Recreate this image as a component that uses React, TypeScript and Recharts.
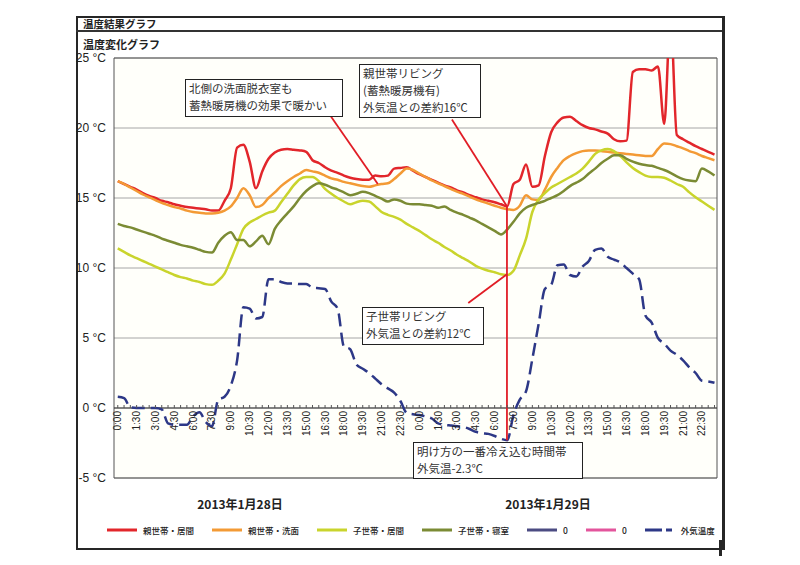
import React from "react";
import {
  LineChart,
  Line,
  XAxis,
  YAxis,
  CartesianGrid,
  ReferenceLine,
  ReferenceArea,
} from "recharts";

// half-hour readings, 2013-01-28 0:00 to 2013-01-29 23:30
const HOURS = Array.from({ length: 96 }, (_, i) => i / 2);
const TICK_LABELS = [
  "0:00", "1:30", "3:00", "4:30", "6:00", "7:30", "9:00", "10:30",
  "12:00", "13:30", "15:00", "16:30", "18:00", "19:30", "21:00", "22:30",
];
const DAY_LABELS = ["2013年1月28日", "2013年1月29日"];
const Y_TICKS = [-5, 0, 5, 10, 15, 20, 25];

const oyaLiving = [
  16.2, 16.0, 15.8, 15.6, 15.35, 15.15, 15.0, 14.8, 14.7, 14.55, 14.45, 14.35,
  14.3, 14.25, 14.2, 14.1, 14.1, 14.8, 15.7, 18.6, 18.8, 17.6, 15.7, 16.9,
  17.8, 18.25, 18.45, 18.5, 18.45, 18.4, 18.3, 17.7, 17.5, 17.2, 16.95, 16.8,
  16.6, 16.45, 16.35, 16.3, 16.3, 16.6, 16.55, 16.6, 17.1, 17.15, 17.2, 16.95,
  16.7, 16.5, 16.3, 16.1, 15.9, 15.75, 15.55, 15.4, 15.2, 15.05, 14.9, 14.8,
  14.7, 14.55, 14.4, 16.0, 16.3, 17.4, 15.8, 15.9, 18.0, 19.7, 20.4, 20.75,
  20.8, 20.5, 20.2, 20.0, 19.9, 19.75, 19.6, 19.2, 19.05, 19.1, 24.0, 24.2,
  24.2, 24.1, 24.4, 20.3, 28.0, 19.5, 19.2, 18.95, 18.7, 18.5, 18.3, 18.1,
];
const oyaWash = [
  16.2, 16.0, 15.75, 15.5, 15.25, 15.05, 14.85, 14.65, 14.5, 14.35, 14.25, 14.1,
  14.0, 13.95, 13.9, 13.9, 13.95, 14.1, 14.4, 15.0, 15.7, 15.2, 14.35, 14.5,
  15.0, 15.4, 15.85, 16.2, 16.5, 16.75, 17.0, 16.9, 16.8, 16.6, 16.4, 16.3,
  16.15, 16.05, 15.95, 15.85, 15.8, 15.9, 16.0, 16.05, 16.35, 16.75, 17.1, 17.0,
  16.75, 16.5, 16.25, 16.05, 15.85, 15.65, 15.45, 15.3, 15.1, 14.9, 14.75, 14.6,
  14.45, 14.3, 14.2, 14.15, 14.45, 15.2, 14.9, 14.85, 15.6, 16.5, 17.15, 17.7,
  18.0, 18.2, 18.35, 18.4, 18.4, 18.35, 18.3, 18.25, 18.2, 18.15, 18.1, 18.05,
  18.0, 18.0, 18.5, 18.9, 18.85, 18.7, 18.55, 18.35, 18.2, 18.0, 17.85, 17.7,
];
const koLiving = [
  11.4, 11.15, 10.9, 10.7, 10.5, 10.3, 10.1, 9.9, 9.7, 9.5, 9.35, 9.25,
  9.1, 9.0, 8.85, 8.8, 9.1, 9.6, 10.6, 11.7, 12.8, 13.25, 13.5, 13.75,
  13.95, 14.1, 14.7, 15.3, 15.9, 16.35, 16.5, 16.5, 16.2, 15.65, 15.3, 15.0,
  14.75, 14.55, 14.7, 14.8, 14.75, 14.4, 14.0, 13.8, 13.65, 13.45, 13.15, 12.9,
  12.65, 12.35, 12.05, 11.8, 11.5, 11.25, 10.95, 10.7, 10.45, 10.15, 9.95, 9.8,
  9.7, 9.55, 9.5, 9.8, 10.9, 12.1, 14.0, 14.9, 15.35, 15.75, 16.0, 16.25,
  16.5, 16.75, 17.1, 17.6, 18.15, 18.4, 18.5, 18.35, 18.0, 17.55, 17.15, 16.85,
  16.6, 16.5, 16.5, 16.45, 16.25, 16.0, 15.8, 15.4, 15.05, 14.75, 14.45, 14.15,
];
const koBedroom = [
  13.15, 13.0, 12.9, 12.75, 12.6, 12.45, 12.3, 12.1, 11.95, 11.8, 11.65, 11.55,
  11.45, 11.3, 11.15, 11.1, 11.8, 12.3, 12.55, 12.0, 12.0, 11.55, 11.9, 12.3,
  11.7, 12.8, 13.4, 13.9, 14.4, 15.0, 15.5, 15.85, 16.05, 15.95, 15.75, 15.6,
  15.4, 15.2, 15.3, 15.45, 15.35, 15.15, 14.95, 14.75, 14.9, 14.8, 14.6, 14.55,
  14.55, 14.5, 14.45, 14.3, 14.4, 14.15, 13.95, 13.8, 13.6, 13.4, 13.15, 12.9,
  12.65, 12.4, 12.75, 13.3, 13.9, 14.3, 14.5, 14.65, 14.8, 15.0, 15.2, 15.5,
  15.85, 16.1, 16.35, 16.75, 17.1, 17.5, 17.8, 18.05, 18.05, 17.8, 17.6, 17.45,
  17.35, 17.3, 17.15, 17.0, 16.8, 16.55, 16.35, 16.25, 16.2, 17.1, 16.9, 16.6,
];
const outdoor = [
  0.8, 0.7, 0.05, 0, 0, 0, 0, -0.1, -1.1, -1.2, -1.2, -1.2,
  -0.6, -0.3, -1.0, -1.3, 0.6, 0.8, 1.6, 3.4, 7.2, 7.1, 6.4, 6.5,
  9.2, 9.2, 9.0, 8.9, 8.9, 8.85, 8.85, 8.6, 8.55, 8.5, 7.6, 7.1,
  4.4, 4.2, 3.1, 2.8, 2.5, 2.1, 1.7, 1.4, 1.1, 0.5, -0.35, -0.45,
  -0.5, -0.6, -0.75, -1.1, -1.2, -1.25, -1.3, -1.35, -1.5, -1.7, -1.8, -1.85,
  -2.0, -2.2, -2.3, -0.5, 0.6, 1.2, 3.5, 6.0, 8.5, 8.8, 10.2, 10.25,
  9.5, 9.4, 10.1, 10.5, 11.3, 11.4, 10.8, 10.6, 10.4, 10.0, 9.6, 9.2,
  6.6, 6.1, 5.0, 4.6, 4.1, 3.8, 3.4, 2.9, 2.5, 1.95, 1.9, 1.8,
];

const SERIES = [
  { key: "oyaLiving", name: "親世帯・居間", color: "#e2262b", values: oyaLiving },
  { key: "oyaWash", name: "親世帯・洗面", color: "#f39a35", values: oyaWash },
  { key: "koLiving", name: "子世帯・居間", color: "#c9d42c", values: koLiving },
  { key: "koBedroom", name: "子世帯・寝室", color: "#7b8b34", values: koBedroom },
  { key: "empty1", name: "0", color: "#4b4b82", values: null },
  { key: "empty2", name: "0", color: "#e3559c", values: null },
  { key: "outdoor", name: "外気温度", color: "#2d3887", values: outdoor, dash: "13 6" },
];

const data = HOURS.map((h, i) => {
  const row: any = { h };
  SERIES.forEach((s) => {
    if (s.values) row[s.key] = s.values[i];
  });
  return row;
});

// callouts, in (hour, °C)
const CALLOUTS = [
  [{ x: 16.75, y: 21.1 }, { x: 20.7, y: 16.0 }],
  [{ x: 26.6, y: 20.6 }, { x: 30.95, y: 14.45 }],
  [{ x: 30.98, y: 14.45 }, { x: 30.98, y: -2.3 }],
  [{ x: 27.9, y: 7.5 }, { x: 30.98, y: 9.55 }],
];

const NOTES = [
  { lines: ["北側の洗面脱衣室も", "蓄熱暖房機の効果で暖かい"], left: 185, top: 79, width: 158, height: 38 },
  { lines: ["親世帯リビング", "(蓄熱暖房機有)", "外気温との差約16℃"], left: 359, top: 64, width: 122, height: 54 },
  { lines: ["子世帯リビング", "外気温との差約12℃"], left: 362, top: 307, width: 122, height: 38 },
  { lines: ["明け方の一番冷え込む時間帯", "外気温-2.3℃"], left: 413, top: 442, width: 170, height: 37 },
];

const Y_MIN = -5;
const Y_MAX = 25;
const PLOT_TOP = 58;
const PLOT_BOTTOM = 478;
const ZERO_OFFSET = ((PLOT_BOTTOM - PLOT_TOP) * (0 - Y_MIN)) / (Y_MAX - Y_MIN);
const X_TICKS = HOURS;

const JP = '"Noto Sans CJK JP", "Noto Sans", sans-serif';

function HourTick(props: any) {
  const { x, y, payload } = props;
  const idx = Math.round(payload.value * 2);
  const axisY = y - ZERO_OFFSET;
  const label = idx % 3 === 0 ? TICK_LABELS[(idx / 3) % 16] : null;
  return (
    <g>
      <line x1={x} x2={x} y1={axisY} y2={axisY - 3} stroke="#555" strokeWidth={1} />
      {label && (
        <text
          transform={`translate(${x + 3.5},${axisY + 3}) rotate(-90)`}
          textAnchor="end"
          fontSize={10}
          fontFamily="Liberation Sans, Arial, sans-serif"
          fill="#222"
        >
          {label}
        </text>
      )}
    </g>
  );
}

export default function App() {
  return (
    <div style={{ position: "absolute", left: 0, top: 0, width: 800, height: 565, background: "#fff", overflow: "hidden" }}>
      {/* document frame */}
      <div style={{ position: "absolute", left: 76, top: 16, width: 644, height: 530, border: "2px solid #262626", borderRightWidth: 3 }} />
      <div style={{ position: "absolute", left: 719, top: 540, width: 3, height: 16, background: "#262626" }} />
      <div style={{ position: "absolute", left: 76, top: 30, width: 646, height: 2, background: "#333" }} />
      <div style={{ position: "absolute", left: 83, top: 16, fontFamily: JP, fontWeight: 700, fontSize: 10.5, lineHeight: "15px", color: "#222" }}>
        温度結果グラフ
      </div>
      <div style={{ position: "absolute", left: 83, top: 37, fontFamily: JP, fontWeight: 700, fontSize: 11, lineHeight: "15px", color: "#222" }}>
        温度変化グラフ
      </div>

      <div style={{ position: "absolute", left: 0, top: 0 }}>
        <LineChart width={800} height={565} data={data} margin={{ top: PLOT_TOP, right: 83, bottom: 77, left: 72 }}>
          <CartesianGrid vertical={false} stroke="#a6a6a6" fill="#fffffa" />
          <ReferenceArea x1={-0.3} x2={47.7} y1={Y_MIN} y2={Y_MAX} fill="none" stroke="#555" strokeWidth={1} />
          <XAxis
            dataKey="h"
            type="number"
            domain={[-0.3, 47.7]}
            ticks={X_TICKS}
            interval={0}
            tick={<HourTick />}
            tickLine={false}
            axisLine={false}
            tickSize={0}
            tickMargin={0}
            height={10}
          />
          <YAxis
            type="number"
            domain={[Y_MIN, Y_MAX]}
            ticks={Y_TICKS}
            allowDataOverflow
            width={42}
            axisLine={false}
            tickLine={false}
            tickSize={6}
            tickMargin={2}
            tickFormatter={(v) => `${v} °C`}
            tick={{ fontSize: 12, fill: "#222", fontFamily: "Liberation Sans, Arial, sans-serif" }}
          />
          <ReferenceLine y={0} stroke="#333" strokeWidth={1.2} />
          {SERIES.filter((s) => s.values).map((s) => (
            <Line
              key={s.key}
              dataKey={s.key}
              name={s.name}
              type="monotone"
              stroke={s.color}
              strokeWidth={2.5}
              strokeDasharray={s.dash}
              dot={false}
              activeDot={false}
              isAnimationActive={false}
            />
          ))}
          {CALLOUTS.map((seg, i) => (
            <ReferenceLine key={i} segment={seg} stroke="#e11d26" strokeWidth={1.8} />
          ))}
        </LineChart>
      </div>

      {NOTES.map((n, i) => (
        <div
          key={i}
          style={{
            position: "absolute",
            left: n.left,
            top: n.top,
            width: n.width,
            height: n.height,
            boxSizing: "border-box",
            border: "1.5px solid #222",
            background: "#fff",
            padding: "0 0 0 3px",
            fontFamily: JP,
            fontSize: 11.5,
            lineHeight: "16.8px",
            color: "#333",
            whiteSpace: "nowrap",
          }}
        >
          {n.lines.map((l, j) => (
            <div key={j}>{l}</div>
          ))}
        </div>
      ))}

      {DAY_LABELS.map((d, i) => (
        <div
          key={d}
          style={{
            position: "absolute",
            left: i === 0 ? 180 : 488,
            top: 495,
            width: 120,
            textAlign: "center",
            fontFamily: JP,
            fontWeight: 700,
            fontSize: 12,
            color: "#222",
          }}
        >
          {d}
        </div>
      ))}

      <div style={{ position: "absolute", left: 107, top: 524, display: "flex", gap: 18, alignItems: "center" }}>
        {SERIES.map((s) => (
          <div key={s.key} style={{ display: "flex", alignItems: "center", gap: 6 }}>
            <svg width={30} height={6}>
              <line x1={0} x2={30} y1={3} y2={3} stroke={s.color} strokeWidth={3} strokeDasharray={s.dash ? "17 4 6 3" : undefined} />
            </svg>
            <span style={{ fontFamily: JP, fontSize: 8.5, color: "#222", fontWeight: 500 }}>{s.name}</span>
          </div>
        ))}
      </div>
    </div>
  );
}
